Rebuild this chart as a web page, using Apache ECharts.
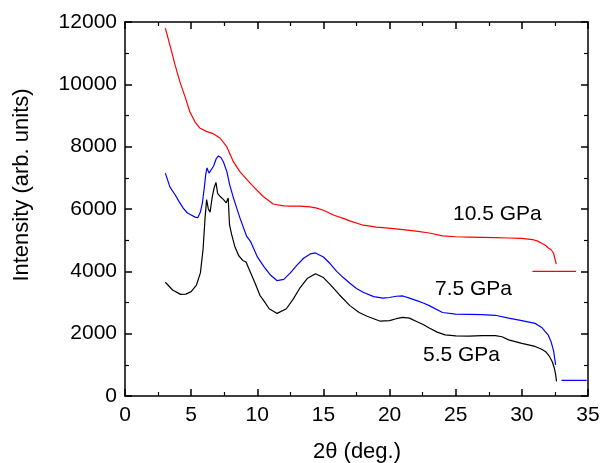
<!DOCTYPE html>
<html>
<head>
<meta charset="utf-8">
<script src="https://cdn.jsdelivr.net/npm/echarts@6/dist/echarts.min.js"></script>
<style>html,body{margin:0;padding:0;background:#fff}#c{width:601px;height:463px}</style>
</head>
<body>
<div id="c"></div>
<script>
var xTicks = [0, 5, 10, 15, 20, 25, 30, 35];
var yTicks = [0, 2000, 4000, 6000, 8000, 10000, 12000];
var seriesNames = ['10.5 GPa', '7.5 GPa', '5.5 GPa'];

var redX = [3.05, 3.4, 3.8, 4.15, 4.55, 4.9, 5.3, 5.65, 6.15, 6.7, 7.2, 7.7, 8.2, 8.7, 9.3, 9.8, 10.45, 11.2, 12.0, 12.5, 13.2, 14.0, 14.5, 15.0, 15.8, 16.5, 17.0, 18.0, 19.0, 19.5, 20.5, 21.0, 22.0, 23.0, 24.0, 25.0, 26.0, 27.0, 28.0, 29.0, 30.0, 30.8, 31.2, 31.5, 31.8, 32.0, 32.2, 32.4, 32.5, 32.6];
var redY = [11800, 11250, 10600, 10080, 9590, 9120, 8790, 8600, 8490, 8410, 8270, 7990, 7510, 7190, 6900, 6680, 6400, 6160, 6100, 6090, 6090, 6070, 6030, 5960, 5800, 5700, 5620, 5480, 5420, 5400, 5360, 5340, 5290, 5230, 5140, 5110, 5100, 5090, 5080, 5070, 5060, 5020, 4970, 4900, 4830, 4750, 4700, 4580, 4400, 4230];

var blueX = [3.05, 3.4, 3.8, 4.1, 4.4, 4.7, 4.9, 5.0, 5.3, 5.5, 5.7, 5.85, 6.0, 6.1, 6.2, 6.35, 6.5, 6.7, 6.9, 7.05, 7.25, 7.45, 7.7, 7.9, 8.2, 8.7, 9.2, 9.5, 10.0, 10.5, 11.0, 11.5, 12.0, 12.5, 13.0, 13.5, 14.0, 14.4, 15.0, 15.5, 16.0, 16.5, 17.0, 17.5, 18.0, 18.8, 19.5, 20.0, 20.5, 21.0, 21.5, 22.0, 22.5, 23.0, 24.0, 25.0, 26.0, 27.0, 28.0, 29.0, 30.0, 31.0, 31.5, 31.8, 32.0, 32.2, 32.4, 32.55];
var blueY = [7150, 6700, 6450, 6230, 6030, 5880, 5830, 5880, 5740, 5720, 5900, 6200, 6700, 7100, 7320, 7150, 7200, 7380, 7620, 7700, 7650, 7500, 7200, 6800, 6350, 5700, 5120, 4950, 4470, 4150, 3880, 3700, 3740, 3950, 4200, 4420, 4560, 4590, 4460, 4250, 4000, 3800, 3620, 3450, 3330, 3190, 3140, 3160, 3200, 3210, 3140, 3070, 2990, 2900, 2680, 2630, 2620, 2610, 2590, 2500, 2420, 2330, 2200, 2050, 1950, 1750, 1450, 1000];

var blackX = [3.05, 3.6, 4.2, 4.6, 5.0, 5.4, 5.7, 5.9, 6.05, 6.17, 6.3, 6.43, 6.6, 6.75, 6.88, 7.0, 7.2, 7.45, 7.65, 7.8, 7.9, 8.05, 8.3, 8.6, 8.9, 9.15, 9.35, 9.6, 9.85, 10.2, 10.5, 10.9, 11.5, 12.2, 12.7, 13.2, 13.8, 14.4, 15.0, 15.5, 16.2, 17.0, 17.7, 18.3, 19.3, 20.0, 20.5, 21.0, 21.5, 22.0, 22.5, 23.0, 23.6, 24.2, 25.0, 26.0, 27.0, 28.0, 28.5, 29.0, 30.0, 31.0, 31.5, 31.8, 32.1, 32.3, 32.45, 32.55, 32.62];
var blackY = [3650, 3400, 3260, 3270, 3350, 3560, 3950, 4700, 5700, 6300, 6000, 5900, 6400, 6700, 6850, 6500, 6400, 6300, 6200, 6350, 5500, 5200, 4800, 4500, 4350, 4300, 4100, 3850, 3600, 3230, 3050, 2800, 2650, 2800, 3100, 3450, 3780, 3920, 3800, 3580, 3250, 2900, 2680, 2560, 2400, 2420, 2480, 2520, 2500, 2400, 2300, 2180, 2050, 1960, 1930, 1920, 1940, 1940, 1900, 1800, 1690, 1590, 1500, 1420, 1260, 1100, 900, 700, 470];

var redTailX = [30.8, 34.1];
var redTailY = [4000, 4000];
var blueTailX = [33.0, 34.9];
var blueTailY = [500, 500];

function pairs(xs, ys) { return xs.map(function (x, i) { return [x, ys[i]]; }); }

var FONT = 'Liberation Sans, Arial, Helvetica, sans-serif';
var chart = echarts.init(document.getElementById('c'), null, {renderer: 'canvas'});

function xAx(pos, show) {
  return {
    type: 'value', position: pos, min: 0, max: 35, interval: 5,
    axisLine: {show: true, onZero: false, lineStyle: {color: '#000', width: 1.5}},
    axisTick: {show: true, inside: true, length: 7, lineStyle: {color: '#000', width: 1.5}},
    minorTick: {show: true, splitNumber: 2, length: 4, lineStyle: {color: '#000', width: 1.2}},
    splitLine: {show: false}, minorSplitLine: {show: false},
    axisLabel: {show: show, color: '#000', fontSize: 21, fontFamily: FONT, margin: 9,
      formatter: function (v) { return String(v); }}
  };
}
function yAx(pos, show) {
  return {
    type: 'value', position: pos, min: 0, max: 12000, interval: 2000,
    axisLine: {show: true, onZero: false, lineStyle: {color: '#000', width: 1.5}},
    axisTick: {show: true, inside: true, length: 7, lineStyle: {color: '#000', width: 1.5}},
    minorTick: {show: true, splitNumber: 2, length: 4, lineStyle: {color: '#000', width: 1.2}},
    splitLine: {show: false}, minorSplitLine: {show: false},
    axisLabel: {show: show, color: '#000', fontSize: 21, fontFamily: FONT, margin: 8,
      formatter: function (v) { return String(v); }}
  };
}

function line(name, data, color) {
  return {
    name: name, type: 'line', data: data, xAxisIndex: 0, yAxisIndex: 0,
    showSymbol: false, symbol: 'none', smooth: false, animation: false,
    lineStyle: {color: color, width: 1.2}, z: 3
  };
}

chart.setOption({
  animation: false,
  backgroundColor: '#fff',
  grid: {left: 125, right: 13, top: 22, bottom: 67, containLabel: false, outerBoundsMode: 'none'},
  xAxis: [xAx('bottom', true), xAx('top', false)],
  yAxis: [yAx('left', true), yAx('right', false)],
  series: [
    line(seriesNames[0], pairs(redX, redY), '#ff0000'),
    line(seriesNames[0] + ' tail', pairs(redTailX, redTailY), '#ff0000'),
    line(seriesNames[1], pairs(blueX, blueY), '#0000ff'),
    line(seriesNames[1] + ' tail', pairs(blueTailX, blueTailY), '#0000ff'),
    line(seriesNames[2], pairs(blackX, blackY), '#000000')
  ],
  graphic: [
    {type: 'text', x: 22, y: 185, rotation: Math.PI / 2,
      style: {text: 'Intensity (arb. units)', fontSize: 22, fontFamily: FONT, fill: '#000', align: 'center', verticalAlign: 'middle'}},
    {type: 'text', x: 357, y: 452,
      style: {text: '2\u03b8 (deg.)', fontSize: 22, fontFamily: FONT, fill: '#000', align: 'center', verticalAlign: 'middle'}},
    {type: 'text', left: 453, top: 204, style: {text: seriesNames[0], fontSize: 21, fontFamily: FONT, fill: '#000'}},
    {type: 'text', left: 435, top: 279, style: {text: seriesNames[1], fontSize: 21, fontFamily: FONT, fill: '#000'}},
    {type: 'text', left: 423, top: 345, style: {text: seriesNames[2], fontSize: 21, fontFamily: FONT, fill: '#000'}}
  ]
});
</script>
</body>
</html>
